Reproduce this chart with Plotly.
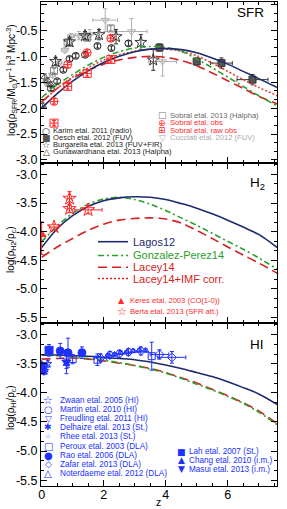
import plotly.graph_objects as go

# ---------------- model curves ----------------
z_model = [0.0, 0.5, 1.0, 1.5, 2.0, 2.5, 3.0, 3.5, 4.0, 4.5, 5.0, 5.5, 6.0, 6.5, 7.0, 7.6]

sfr_lagos12 = [-2.00, -1.72, -1.48, -1.28, -1.12, -1.00, -0.91, -0.86, -0.85, -0.87, -0.93, -1.03, -1.15, -1.29, -1.43, -1.60]
sfr_gp14 = [-1.80, -1.55, -1.35, -1.17, -1.02, -0.91, -0.84, -0.81, -0.83, -0.90, -1.05, -1.22, -1.40, -1.58, -1.76, -1.96]
sfr_lacey14 = [-1.88, -1.62, -1.42, -1.27, -1.15, -1.07, -1.02, -1.00, -1.02, -1.08, -1.18, -1.32, -1.47, -1.62, -1.77, -1.92]
sfr_lacey14imf = [-1.90, -1.62, -1.40, -1.22, -1.07, -0.97, -0.90, -0.86, -0.86, -0.90, -0.99, -1.13, -1.29, -1.45, -1.60, -1.76]

h2_lagos12 = [-4.28, -3.95, -3.72, -3.56, -3.46, -3.41, -3.39, -3.40, -3.44, -3.51, -3.59, -3.69, -3.80, -3.92, -4.05, -4.28]
h2_gp14 = [-4.18, -3.90, -3.68, -3.52, -3.43, -3.40, -3.44, -3.52, -3.63, -3.76, -3.89, -4.03, -4.17, -4.31, -4.46, -4.66]
h2_lacey14 = [-4.45, -4.27, -4.12, -3.98, -3.87, -3.80, -3.77, -3.76, -3.78, -3.85, -3.98, -4.12, -4.27, -4.41, -4.55, -4.73]

hi_lagos12 = [-3.35, -3.35, -3.36, -3.37, -3.39, -3.41, -3.43, -3.47, -3.52, -3.58, -3.65, -3.72, -3.81, -3.91, -4.02, -4.20]
hi_gp14 = [-3.35, -3.36, -3.38, -3.41, -3.44, -3.48, -3.53, -3.59, -3.66, -3.75, -3.85, -3.95, -4.06, -4.18, -4.33, -4.55]
hi_lacey14 = [-3.42, -3.41, -3.40, -3.42, -3.45, -3.49, -3.53, -3.58, -3.65, -3.74, -3.83, -3.94, -4.05, -4.17, -4.31, -4.53]

# ---------------- SFR observations ----------------
karim_z = [0.3, 0.5, 0.7, 0.9, 1.1, 1.4, 1.8, 2.25, 2.8]
karim_y = [-1.62, -1.48, -1.26, -1.05, -0.99, -0.97, -0.80, -0.84, -0.75]
karim_e = [0.04, 0.04, 0.04, 0.04, 0.04, 0.04, 0.04, 0.04, 0.05]

oesch_z = [3.8, 5.0, 5.8, 6.8]
oesch_y = [-0.83, -1.10, -1.13, -1.45]
oesch_ey = [0.07, 0.07, 0.10, 0.10]
oesch_ex = [0.0, 0.0, 0.35, 0.5]

burg_z = [0.45, 0.9, 1.4, 1.85, 2.4, 3.2, 3.6]
burg_y = [-1.10, -0.72, -0.60, -0.58, -0.62, -0.73, -1.07]
burg_e = [0.08, 0.08, 0.08, 0.10, 0.14, 0.15, 0.20]

guna_z = [0.03, 0.1, 0.2, 0.3]
guna_y = [-1.95, -1.40, -1.47, -1.55]
guna_e = [0.05, 0.06, 0.06, 0.06]

sobral_z = [0.4, 0.84, 1.47, 2.23]
sobral13_y = [-1.28, -0.73, -0.64, -0.46]
sobral_obs_y = [-1.87, -1.16, -0.93, -0.65]
sobral_raw_y = [-2.29, -1.58, -1.33, -1.06]
sobral_e = [0.05, 0.05, 0.05, 0.05]

cucc_z = [0.15, 0.35, 0.55, 0.75, 0.95, 1.2, 1.55, 2.05, 2.9, 3.9]
cucc_y = [-1.52, -1.36, -1.14, -0.88, -0.62, -0.60, -0.58, -0.30, -0.52, -1.10]
cucc_ey = [0.05, 0.05, 0.05, 0.05, 0.06, 0.08, 0.10, 0.22, 0.25, 0.28]
cucc_ex = [0.05, 0.1, 0.1, 0.1, 0.1, 0.15, 0.25, 0.4, 0.5, 0.45]

# ---------------- H2 observations ----------------
keres_z = [0.0]
keres_y = [-4.05]
keres_eplus = [0.22]
keres_eminus = [0.35]

berta_z = [0.4, 0.9, 0.9, 1.5]
berta_y = [-3.92, -3.42, -3.60, -3.62]
berta_ex = [0.15, 0.06, 0.06, 0.45]
berta_ey = [0.05, 0.12, 0.07, 0.07]

# ---------------- HI observations ----------------
zwaan_z, zwaan_y = [0.0], [-3.55]
martin_z, martin_y = [0.0], [-3.52]
freud_z, freud_y = [0.03], [-3.60]
delh_z, delh_y = [0.04, 0.08], [-3.55, -3.63]
rhee_z, rhee_y = [0.1, 0.2], [-3.62, -3.50]
peroux_z, peroux_y, peroux_e = [1.0, 1.8, 3.55], [-3.42, -3.43, -3.37], [0.08, 0.10, 0.24]
rao_z, rao_y, rao_e = [0.6, 0.85, 1.3], [-3.28, -3.31, -3.31], [0.13, 0.25, 0.10]
zafar_z = [1.9, 2.2, 2.5, 2.8, 3.2, 3.8, 4.2]
zafar_y = [-3.40, -3.35, -3.33, -3.30, -3.28, -3.34, -3.39]
zafar_ex = [0.2, 0.1, 0.1, 0.1, 0.2, 0.3, 0.45]
zafar_ey = [0.07, 0.06, 0.06, 0.06, 0.07, 0.08, 0.10]
noter_z = [2.15, 2.35, 2.55, 2.75, 2.95, 3.15, 3.35]
noter_y = [-3.36, -3.34, -3.31, -3.30, -3.28, -3.27, -3.27]
lah_z, lah_y, lah_e = [0.24], [-3.27], [0.10]
chang_z, chang_y = [0.8], [-3.50]
masui_z, masui_y, masui_e = [0.8], [-3.47], [0.20]

# ---------------- ticks ----------------
x_ticks = [0, 2, 4, 6]
x_tick_labels = ["0", "2", "4", "6"]
y1_ticks = [0.0, -0.5, -1.0, -1.5, -2.0, -2.5, -3.0]
y1_tick_labels = ["0.0", "-0.5", "-1.0", "-1.5", "-2.0", "-2.5", "-3.0"]
y23_ticks = [-3.0, -3.5, -4.0, -4.5, -5.0, -5.5]
y23_tick_labels = ["-3.0", "-3.5", "-4.0", "-4.5", "-5.0", "-5.5"]

NAVY = "#1c2a6e"
GREEN = "#2ca02c"
RED = "#d62020"
RED2 = "#e8403a"
OBSRED = "#ff2a2a"
BLUE = "#2030ff"
FONT = "Liberation Sans, Arial, sans-serif"

fig = go.Figure()


def model(x, y, color, dash, xa, ya, width=1.6):
    fig.add_trace(go.Scatter(x=x, y=y, mode="lines", line=dict(color=color, dash=dash, width=width, shape="spline", smoothing=0.8),
                             xaxis=xa, yaxis=ya, showlegend=False, hoverinfo="skip"))


def obs(x, y, symbol, color, size, xa, ya, ey=None, ex=None, ey_minus=None, fill=None, lw=1.0, cap=2):
    err_y = None
    if ey is not None:
        err_y = dict(type="data", array=ey, arrayminus=ey_minus if ey_minus is not None else ey,
                     color=color, thickness=1, width=cap, visible=True)
    err_x = None
    if ex is not None:
        err_x = dict(type="data", array=ex, color=color, thickness=1, width=cap, visible=True)
    fig.add_trace(go.Scatter(x=x, y=y, mode="markers",
                             marker=dict(symbol=symbol, size=size, color=fill if fill else color,
                                         line=dict(color=color, width=lw)),
                             error_y=err_y, error_x=err_x, xaxis=xa, yaxis=ya, showlegend=False))


# Panel 1: SFR (x, y)
obs(cucc_z, cucc_y, "triangle-down-open", "#b0b0b0", 7, "x", "y", ey=cucc_ey, ex=cucc_ex)
obs(sobral_z, sobral13_y, "square-open", "#808080", 7, "x", "y", ey=sobral_e)
obs(guna_z, guna_y, "triangle-up-open", "#555555", 7, "x", "y", ey=guna_e)
obs(karim_z, karim_y, "circle-open", "#222222", 7, "x", "y", ey=karim_e)
obs(burg_z, burg_y, "star-open", "#333333", 9, "x", "y", ey=burg_e)
obs(oesch_z, oesch_y, "square", "#333333", 7, "x", "y", ey=oesch_ey, ex=oesch_ex, fill="#555555")
model(z_model, sfr_lacey14, RED, "9px,5px", "x", "y")
model(z_model, sfr_lacey14imf, RED2, "2px,2px", "x", "y")
model(z_model, sfr_gp14, GREEN, "6px,3px,2px,3px", "x", "y")
model(z_model, sfr_lagos12, NAVY, "solid", "x", "y")
obs(sobral_z, sobral_obs_y, "circle-cross-open", OBSRED, 8, "x", "y", ey=sobral_e)
obs(sobral_z, sobral_raw_y, "square-cross-open", OBSRED, 8, "x", "y", ey=sobral_e)

# Panel 2: H2 (x2, y2)
model(z_model, h2_lacey14, RED, "9px,5px", "x2", "y2")
model(z_model, h2_gp14, GREEN, "6px,3px,2px,3px", "x2", "y2")
model(z_model, h2_lagos12, NAVY, "solid", "x2", "y2")
obs(keres_z, keres_y, "triangle-up", OBSRED, 8, "x2", "y2", ey=keres_eplus, ey_minus=keres_eminus)
obs(berta_z, berta_y, "star-open", OBSRED, 10, "x2", "y2", ey=berta_ey, ex=berta_ex)

# Panel 3: HI (x3, y3)
model(z_model, hi_lacey14, RED, "9px,5px", "x3", "y3")
model(z_model, hi_gp14, GREEN, "6px,3px,2px,3px", "x3", "y3")
model(z_model, hi_lagos12, NAVY, "solid", "x3", "y3")
obs(zwaan_z, zwaan_y, "star-open", BLUE, 9, "x3", "y3", ey=[0.05])
obs(martin_z, martin_y, "circle-open", BLUE, 6, "x3", "y3", ey=[0.04])
obs(freud_z, freud_y, "triangle-down-open", BLUE, 6, "x3", "y3", ey=[0.05])
obs(delh_z, delh_y, "asterisk-open", BLUE, 7, "x3", "y3", ey=[0.05, 0.05], lw=1.5)
obs(rhee_z, rhee_y, "star-open", BLUE, 6, "x3", "y3", ey=[0.05, 0.06])
obs(peroux_z, peroux_y, "square-open", BLUE, 7, "x3", "y3", ey=peroux_e)
obs(rao_z, rao_y, "circle", BLUE, 8, "x3", "y3", ey=rao_e)
obs(chang_z, chang_y, "triangle-up", BLUE, 6, "x3", "y3", ey=[0.08])
obs(masui_z, masui_y, "triangle-down", BLUE, 8, "x3", "y3", ey=masui_e)
obs(lah_z, lah_y, "square", BLUE, 8, "x3", "y3", ey=lah_e)
obs(zafar_z, zafar_y, "diamond-open", BLUE, 7, "x3", "y3", ey=zafar_ey, ex=zafar_ex)
obs(noter_z, noter_y, "triangle-up-open", BLUE, 6, "x3", "y3", ey=[0.03] * len(noter_z))

# ---------------- layout ----------------
L, R, T, B = 41, 277, 2, 486
W, H = R - L, B - T


def PX(x):
    return (x - L) / W


def PY(y):
    return (B - y) / H


d1 = [PY(163), 1.0]
d2 = [PY(323), PY(163)]
d3 = [0.0, PY(323)]

common = dict(ticks="inside", tickcolor="black", tickwidth=1, mirror="allticks", showline=True,
              linecolor="black", linewidth=1, showgrid=False, zeroline=False,
              tickfont=dict(family=FONT, size=12.5, color="black"))


def xax(show, anchor):
    d = dict(common)
    d.update(range=[-0.02, 7.59], tickmode="array", tickvals=x_ticks, ticktext=x_tick_labels,
             showticklabels=show, ticklen=6, anchor=anchor, ticklabelstandoff=-3,
             minor=dict(ticks="inside", tickmode="linear", tick0=0, dtick=0.5, ticklen=3,
                        tickcolor="black", showgrid=False))
    return d


def yax(rng, tv, tt, dom, anchor):
    d = dict(common)
    d.update(range=rng, tickmode="array", tickvals=tv, ticktext=tt, ticklen=6, domain=dom, anchor=anchor,
             minor=dict(ticks="inside", tickmode="linear", tick0=0, dtick=0.5 / 3, ticklen=3,
                        tickcolor="black", showgrid=False))
    return d


fig.update_layout(
    width=287, height=509,
    margin=dict(l=L, r=287 - R, t=T, b=509 - B, pad=0),
    paper_bgcolor="white", plot_bgcolor="white",
    showlegend=False,
    font=dict(family=FONT, color="black"),
    xaxis=xax(False, "y"),
    xaxis2=xax(False, "y2"),
    xaxis3=xax(True, "y3"),
    yaxis=yax([-3.06, 0.05], y1_ticks, y1_tick_labels, d1, "x"),
    yaxis2=yax([-5.6, -2.8], y23_ticks, y23_tick_labels, d2, "x2"),
    yaxis3=yax([-5.6, -2.8], y23_ticks, y23_tick_labels, d3, "x3"),
)
fig.layout.xaxis.matches = "x3"
fig.layout.xaxis2.matches = "x3"

ann = []


def text(x, y, s, size, color="black", xanchor="left", angle=0, family=FONT, yanchor="middle", borderpad=1):
    ann.append(dict(x=PX(x), y=PY(y), xref="paper", yref="paper", text=s, showarrow=False,
                    xanchor=xanchor, yanchor=yanchor, textangle=angle, borderpad=borderpad,
                    font=dict(family=family, size=size, color=color)))


SYM = "DejaVu Sans, sans-serif"

# axis titles
text(11, 80, "log(ρ<sub>SFR</sub>/M<sub>⊙</sub>yr<sup>-1</sup> h<sup>3</sup> Mpc<sup>-3</sup>)", 10, xanchor="center", angle=-90)
text(11, 250, "log(ρ<sub>H2</sub>/ρ<sub>c</sub>)", 10, xanchor="center", angle=-90)
text(11, 408, "log(ρ<sub>HI</sub>/ρ<sub>c</sub>)", 10, xanchor="center", angle=-90)
text(158, 509, "z", 10.5, xanchor="center", yanchor="bottom", borderpad=0)

# panel labels
text(266, 13, "SFR", 13.5, xanchor="right")
text(267, 183, "H<sub>2</sub>", 13.5, xanchor="right")
text(266, 344, "HI", 13.5, xanchor="right")

# panel 1 legends
leg1_sym = ["○", "■", "☆", "△"]
leg1_txt = ["Karim etal. 2011 (radio)", "Oesch etal. 2012 (FUV)", "Burgarella etal. 2013 (FUV+FIR)", "Gunawardhana etal. 2013 (Halpha)"]
leg1_col = ["#222222", "#555555", "#333333", "#444444"]
for i, yy in enumerate([130.7, 137.7, 145.0, 151.9]):
    text(46, yy, leg1_sym[i], 9, color=leg1_col[i], xanchor="center", family=SYM)
    text(51, yy, leg1_txt[i], 7.6, color="#222222")

leg1b_sym = ["□", "⊕", "⊞", "▽"]
leg1b_txt = ["Sobral etal. 2013 (Halpha)", "Sobral etal. obs", "Sobral etal. raw obs", "Cucciati etal. 2012 (FUV)"]
leg1b_col = ["#777777", OBSRED, OBSRED, "#aaaaaa"]
for i, yy in enumerate([115.0, 122.5, 130.0, 137.5]):
    text(162, yy, leg1b_sym[i], 9, color=leg1b_col[i], xanchor="center", family=SYM)
    text(167.5, yy, leg1b_txt[i], 7.6, color=leg1b_col[i] if i else "#666666")

# panel 2 legend (lines)
leg2_txt = ["Lagos12", "Gonzalez-Perez14", "Lacey14", "Lacey14+IMF corr."]
leg2_col = [NAVY, GREEN, RED, RED]
leg2_dash = ["solid", "6px,3px,2px,3px", "9px,5px", "2px,2px"]
shapes = []
for i, yy in enumerate([241.7, 255.5, 267.3, 278.5]):
    shapes.append(dict(type="line", xref="paper", yref="paper", x0=PX(98), x1=PX(128), y0=PY(yy), y1=PY(yy),
                       line=dict(color=leg2_col[i], width=1.6, dash=leg2_dash[i])))
    text(130.5, yy, leg2_txt[i], 11, color=leg2_col[i])

leg2b_sym = ["▲", "☆"]
leg2b_txt = ["Keres etal. 2003 (CO(1-0))", "Berta etal. 2013 (SFR att.)"]
for i, yy in enumerate([300.0, 311.7]):
    text(121.7, yy, leg2b_sym[i], 8 if i == 0 else 11, color=OBSRED, xanchor="center", family=SYM)
    text(128, yy, leg2b_txt[i], 7.6, color=OBSRED)

# panel 3 legends
leg3_sym = ["☆", "○", "▽", "✱", "☆", "□", "●", "◇", "△"]
leg3_sz = [11, 10, 9, 9, 7, 10, 10, 9, 10]
leg3_txt = ["Zwaan etal. 2005 (HI)", "Martin etal. 2010 (HI)", "Freudling etal. 2011 (HI)", "Delhaize etal. 2013 (St.)",
            "Rhee etal. 2013 (St.)", "Peroux etal. 2003 (DLA)", "Rao etal. 2006 (DLA)", "Zafar etal. 2013 (DLA)",
            "Noterdaeme etal. 2012 (DLA)"]
for i, yy in enumerate([400.0, 409.3, 418.6, 427.3, 436.0, 446.0, 455.0, 464.0, 473.3]):
    text(48, yy, leg3_sym[i], leg3_sz[i], color=BLUE, xanchor="center", family=SYM)
    text(57.5, yy, leg3_txt[i], 8.2, color=BLUE)

leg3b_sym = ["■", "▲", "▼"]
leg3b_txt = ["Lah etal. 2007 (St.)", "Chang etal. 2010 (i.m.)", "Masui etal. 2013 (i.m.)"]
for i, yy in enumerate([451.7, 460.3, 469.3]):
    text(181.7, yy, leg3b_sym[i], 9, color=BLUE, xanchor="center", family=SYM)
    text(187, yy, leg3b_txt[i], 8.2, color=BLUE)

fig.update_layout(annotations=ann, shapes=shapes)
fig.write_html("out.html", config={"displayModeBar": False},
               post_script="document.body.style.margin='0';document.body.style.padding='0';")
